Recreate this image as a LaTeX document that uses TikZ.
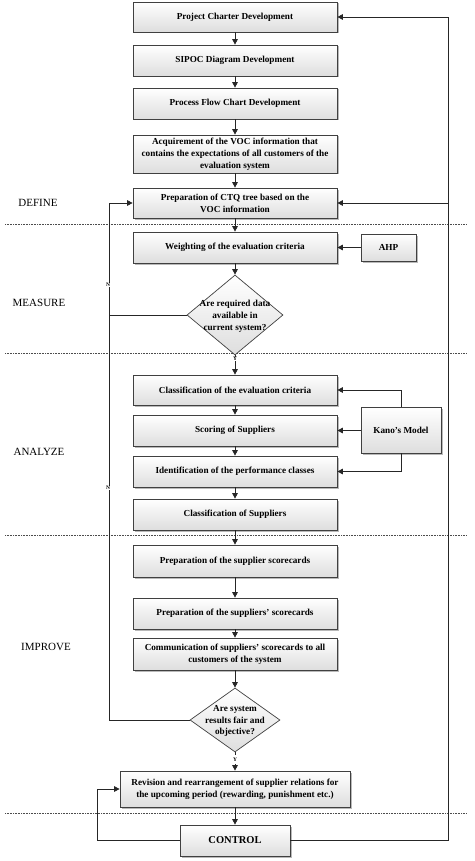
\documentclass[tikz,border=0pt]{standalone}
\usepackage{fontspec}
\setmainfont{Liberation Serif}
\usetikzlibrary{arrows.meta,shapes.geometric,shadows,calc}
\begin{document}
\begin{tikzpicture}[x=1pt,y=-1pt,
  box/.style={draw=black!75, line width=0.7pt, rectangle, top color=white, bottom color=black!13,
    drop shadow={shadow xshift=1.5pt,shadow yshift=-1.5pt,fill=black!50,opacity=0.55},
    font=\bfseries\fontsize{9.2}{11.8}\selectfont, align=center, inner sep=1pt},
  mainbox/.style={box, minimum width=204pt},
  dia/.style={diamond, draw=black!75, line width=0.7pt, top color=white, bottom color=black!13, inner sep=0pt},
  diatext/.style={font=\bfseries\fontsize{9.2}{11.8}\selectfont, align=center, inner sep=0pt},
  arr/.style={draw=black!85, line width=0.8pt, -{Triangle[length=5.5pt,width=5.5pt]}},
  plain/.style={draw=black!85, line width=0.8pt},
  sep/.style={draw=black!70, line width=0.6pt, densely dotted},
  phase/.style={font=\fontsize{11}{13}\selectfont},
  ylab/.style={font=\bfseries\fontsize{5.5}{6}\selectfont, fill=white, inner sep=0.4pt},
  nlab/.style={font=\bfseries\fontsize{5.5}{6}\selectfont, fill=white, inner sep=0.4pt}
]
\useasboundingbox (0,0) rectangle (474,861);

% separators
\draw[sep] (5,224) -- (466,224);
\draw[sep] (5,353) -- (466,353);
\draw[sep] (5,535) -- (466,535);
\draw[sep] (5,813) -- (466,813);

% phase labels
\node[phase] (lDef) at (38,203) {DEFINE};
\node[phase] (lMea) at (39,303) {MEASURE};
\node[phase] (lAna) at (39,452) {ANALYZE};
\node[phase] (lImp) at (46,647) {IMPROVE};

% main column
\node[mainbox, minimum height=30pt] (pc) at (235,17) {Project Charter Development};
\node[mainbox, minimum height=31pt] (sipoc) at (235,60.5) {SIPOC Diagram Development};
\node[mainbox, minimum height=31pt] (pfc) at (235,103.5) {Process Flow Chart Development};
\node[mainbox, minimum height=38pt] (voc) at (235,154) {Acquirement of the VOC information that\\contains the expectations of all customers of the\\evaluation system};
\node[mainbox, minimum height=30pt] (ctq) at (235,203) {Preparation of CTQ tree based on the\\VOC information};
\node[mainbox, minimum height=31pt] (wt) at (235,247.5) {Weighting of the evaluation criteria};
\node[box, minimum width=55pt, minimum height=27pt] (ahp) at (388.5,247.5) {AHP};
\node[dia, minimum width=96pt, minimum height=80pt] (d1) at (235,315) {};
\node[diatext] (d1t) at (235,316) {Are required data\\available in\\current system?};

\node[mainbox, minimum height=30pt] (cec) at (235,390) {Classification of the evaluation criteria};
\node[mainbox, minimum height=31pt] (sos) at (235,430.5) {Scoring of Suppliers};
\node[mainbox, minimum height=31pt] (ipc) at (235,471.5) {Identification of the performance classes};
\node[mainbox, minimum height=31pt] (cos) at (235,514.5) {Classification of Suppliers};
\node[box, minimum width=80pt, minimum height=46pt] (kano) at (401,430) {Kano's Model};

\node[mainbox, minimum height=32pt] (pss) at (235,561) {Preparation of the supplier scorecards};
\node[mainbox, minimum height=31pt] (pss2) at (235,613.5) {Preparation of the suppliers' scorecards};
\node[mainbox, minimum height=32pt] (com) at (235,654) {Communication of suppliers' scorecards to all\\customers of the system};
\node[dia, minimum width=90pt, minimum height=64pt] (d2) at (235,720) {};
\node[diatext] (d2t) at (235,721) {Are system\\results fair and\\objective?};

\node[box, minimum width=230pt, minimum height=36pt] (rev) at (235,789) {Revision and rearrangement of supplier relations for\\the upcoming period (rewarding, punishment etc.)};
\node[box, minimum width=110pt, minimum height=31pt, font=\bfseries\fontsize{10.5}{12}\selectfont] (ctrl) at (235,840.5) {CONTROL};

% main flow
\draw[arr] (pc) -- (sipoc);
\draw[arr] (sipoc) -- (pfc);
\draw[arr] (pfc) -- (voc);
\draw[arr] (voc) -- (ctq);
\draw[arr] (ctq) -- (wt);
\draw[arr] (wt) -- (d1.north);
\draw[arr] (d1.south) -- node[ylab, pos=0.18] (y1) {Y} (cec.north);
\draw[arr] (cec) -- (sos);
\draw[arr] (sos) -- (ipc);
\draw[arr] (ipc) -- (cos);
\draw[arr] (cos) -- (pss);
\draw[arr] (pss) -- (pss2);
\draw[arr] (pss2) -- (com);
\draw[arr] (com) -- (d2.north);
\draw[arr, dashed] (d2.south) -- node[ylab, pos=0.4] (y2) {Y} (rev.north);
\draw[arr] (rev) -- (ctrl);

% side inputs
\draw[arr] (ahp) -- (wt);
\draw[arr] (kano.north) |- (cec.east);
\draw[arr] (kano.west) -- (sos.east -| kano.west) -- (sos.east);
\draw[arr] (kano.south) |- (ipc.east);

% left feedback (N)
\coordinate (lx) at (109,0);
\draw[arr] (d2.west) -- (d2.west -| lx) |- (ctq.west);
\draw[plain] (d1.west) -- (d1.west -| lx);
\node[nlab] (n1) at (108,285) {N};
\node[nlab] (n2) at (108,488) {N};

% right feedback from CONTROL
\coordinate (rx) at (448,0);
\draw[arr] (ctrl.east) -- (ctrl.east -| rx) |- (pc.east);
\draw[arr] (ctq.east -| rx) -- (ctq.east);

% bottom-left loop
\coordinate (bx) at (97,0);
\draw[arr] (ctrl.west) -- (ctrl.west -| bx) |- (rev.west);
\end{tikzpicture}
\end{document}
